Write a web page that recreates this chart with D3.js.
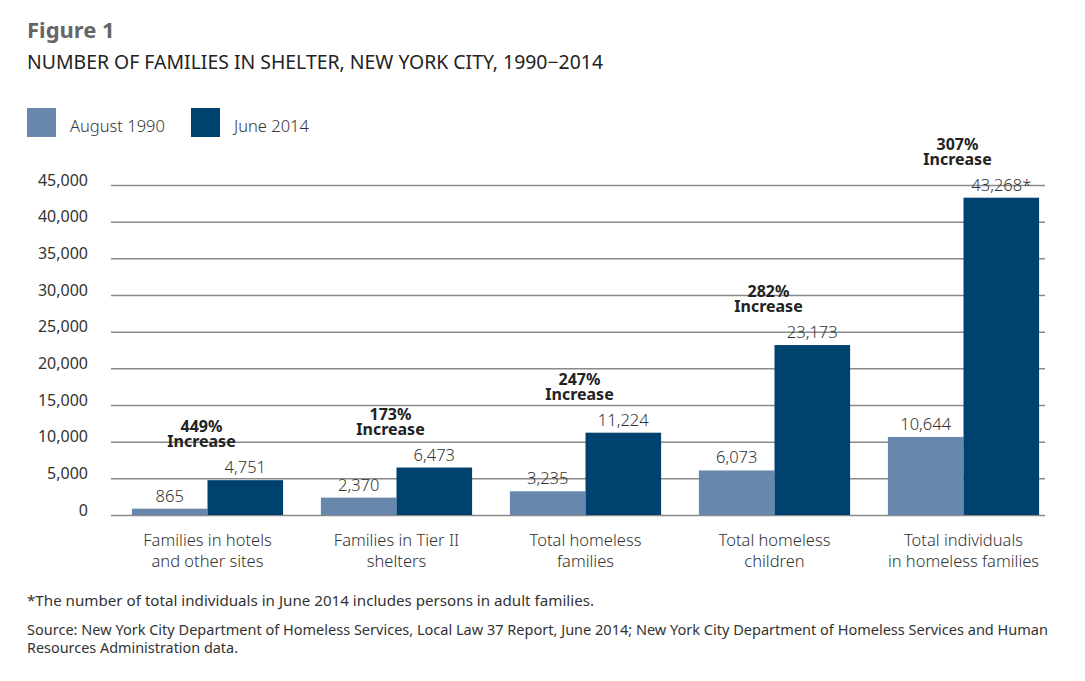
<!DOCTYPE html>
<html>
<head>
<meta charset="utf-8">
<script src="https://cdn.jsdelivr.net/npm/d3@7"></script>
<style>
  body { margin: 0; background: #fff; }
  text { font-family: "Noto Sans", "Open Sans", sans-serif; }
</style>
</head>
<body>
<svg id="chart" width="1085" height="681"></svg>
<script>
// data
var categories = [
  ["Families in hotels", "and other sites"],
  ["Families in Tier II", "shelters"],
  ["Total homeless", "families"],
  ["Total homeless", "children"],
  ["Total individuals", "in homeless families"]
]
var aug1990 = [865, 2370, 3235, 6073, 10644]
var jun2014 = [4751, 6473, 11224, 23173, 43268]
var increase = ["449%", "173%", "247%", "282%", "307%"]
var seriesNames = ["August 1990", "June 2014"]
var yTicks = [0, 5000, 10000, 15000, 20000, 25000, 30000, 35000, 40000, 45000]

var colors = ["#6787ad", "#00426f"]
var svg = d3.select("#chart")

// titles
svg.append("text").attr("x", 27).attr("y", 38)
  .style("font-size", "22px").style("font-weight", "bold").attr("fill", "#666")
  .text("Figure 1")
svg.append("text").attr("x", 27).attr("y", 69)
  .style("font-size", "19px").attr("fill", "#222")
  .attr("textLength", 576).attr("lengthAdjust", "spacingAndGlyphs")
  .text("NUMBER OF FAMILIES IN SHELTER, NEW YORK CITY, 1990\u22122014")

// legend
var legX = [27, 191]
seriesNames.forEach(function(name, i) {
  svg.append("rect").attr("x", legX[i]).attr("y", 108).attr("width", 29).attr("height", 29)
    .attr("fill", colors[i])
  svg.append("text").attr("x", legX[i] + 43).attr("y", 132)
    .style("font-size", "16.5px").attr("fill", "#333").style("font-weight", 300)
    .text(name)
})

var y = d3.scaleLinear().domain([0, 45000]).range([515, 185])
var x = d3.scaleBand().domain(d3.range(categories.length)).range([113, 1058])
  .paddingInner(0.2).paddingOuter(0.1)
var xs = d3.scaleBand().domain([0, 1]).range([0, x.bandwidth()])

// grid
var yAxis = d3.axisLeft(y).tickValues(yTicks).tickSize(-(1045 - 111))
  .tickFormat(d3.format(","))
var ga = svg.append("g").attr("transform", "translate(111,0)").call(yAxis)
ga.select(".domain").remove()
ga.selectAll(".tick line").attr("stroke", "#8a8a8a").attr("stroke-width", 1.5)
ga.selectAll(".tick text").attr("x", -23).attr("y", -5).attr("dy", "0.32em")
  .style("font-size", "16px").attr("fill", "#333").style("font-family", "\"Noto Sans\", sans-serif")

// bars
var groups = svg.selectAll(".grp").data(categories).join("g")
  .attr("class", "grp")
  .attr("transform", function(d, i) { return "translate(" + x(i) + ",0)" })

var series = [aug1990, jun2014]
series.forEach(function(vals, s) {
  groups.append("rect")
    .attr("x", xs(s)).attr("width", xs.bandwidth())
    .attr("y", function(d, i) { return y(vals[i]) })
    .attr("height", function(d, i) { return y(0) - y(vals[i]) })
    .attr("fill", colors[s])
  groups.append("text")
    .attr("x", xs(s) + xs.bandwidth() / 2)
    .attr("y", function(d, i) { return y(vals[i]) - 7 })
    .attr("text-anchor", "middle")
    .style("font-size", "16.5px").attr("fill", "#333").style("font-weight", 300)
    .text(function(d, i) { return d3.format(",")(vals[i]) + (s == 1 && i == 4 ? "*" : "") })
})

// increase labels
groups.append("text")
  .attr("x", x.bandwidth() / 2 - 6)
  .attr("y", function(d, i) { return y(jun2014[i]) - 48 })
  .attr("text-anchor", "middle")
  .style("font-size", "16px").style("font-weight", "bold").attr("fill", "#222")
  .text(function(d, i) { return increase[i] })
groups.append("text")
  .attr("x", x.bandwidth() / 2 - 6)
  .attr("y", function(d, i) { return y(jun2014[i]) - 33 })
  .attr("text-anchor", "middle")
  .style("font-size", "16px").style("font-weight", "bold").attr("fill", "#222")
  .text("Increase")

// category labels
groups.each(function(d) {
  var g = d3.select(this)
  d.forEach(function(line, k) {
    g.append("text")
      .attr("x", x.bandwidth() / 2).attr("y", 546 + k * 21)
      .attr("text-anchor", "middle")
      .style("font-size", "16.5px").attr("fill", "#333").style("font-weight", 300)
      .text(line)
  })
})

// notes
var notes = [
  ["*The number of total individuals in June 2014 includes persons in adult families.", 606, 567],
  ["Source: New York City Department of Homeless Services, Local Law 37 Report, June 2014; New York City Department of Homeless Services and Human", 635, 1021],
  ["Resources Administration data.", 653, 211]
]
notes.forEach(function(n) {
  svg.append("text").attr("x", 27).attr("y", n[1])
    .style("font-size", "14px").attr("fill", "#333")
    .style("font-family", "\"Liberation Sans Narrow\", \"Noto Sans\", sans-serif")
    .attr("textLength", n[2]).attr("lengthAdjust", "spacingAndGlyphs")
    .text(n[0])
})
</script>
</body>
</html>
